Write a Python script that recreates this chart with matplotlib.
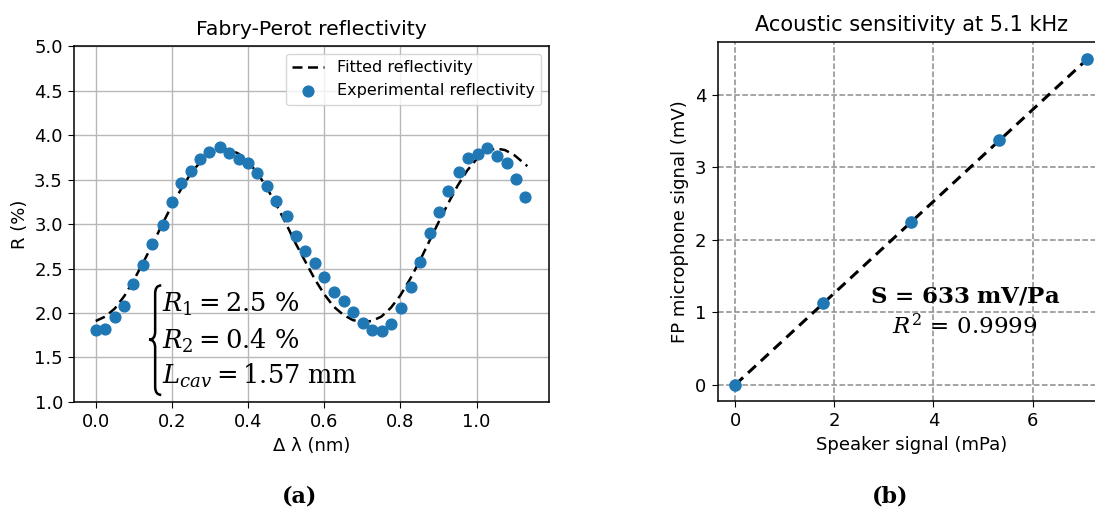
import numpy as np
import matplotlib
matplotlib.use("Agg")
import matplotlib.pyplot as plt
from matplotlib.path import Path
from matplotlib.patches import PathPatch

plt.rcParams['mathtext.fontset'] = 'dejavuserif'
plt.rcParams['xtick.labelsize'] = 13
plt.rcParams['ytick.labelsize'] = 13
plt.rcParams['xtick.major.size'] = 4.5
plt.rcParams['ytick.major.size'] = 4.5
plt.rcParams['axes.linewidth'] = 1.1

# ---- Panel (a) data: Fabry-Perot reflectivity ----
exp_dl = [0.000, 0.024, 0.050, 0.075, 0.099, 0.125, 0.149, 0.176, 0.199, 0.223,
          0.249, 0.274, 0.298, 0.325, 0.349, 0.375, 0.399, 0.424, 0.450, 0.474,
          0.501, 0.525, 0.550, 0.576, 0.600, 0.626, 0.651, 0.675, 0.701, 0.726,
          0.752, 0.776, 0.801, 0.827, 0.852, 0.878, 0.902, 0.925, 0.953, 0.978,
          1.004, 1.028, 1.053, 1.079, 1.104, 1.128]
exp_R = [1.81, 1.82, 1.96, 2.08, 2.33, 2.54, 2.77, 2.99, 3.25, 3.46,
         3.59, 3.73, 3.81, 3.87, 3.80, 3.73, 3.68, 3.57, 3.43, 3.26,
         3.09, 2.87, 2.70, 2.56, 2.41, 2.24, 2.14, 2.01, 1.89, 1.81,
         1.80, 1.88, 2.06, 2.29, 2.57, 2.90, 3.14, 3.37, 3.58, 3.74,
         3.79, 3.85, 3.76, 3.69, 3.51, 3.30]

fit_dl = [0.000, 0.025, 0.050, 0.075, 0.100, 0.125, 0.150, 0.175, 0.200, 0.225,
          0.250, 0.275, 0.300, 0.325, 0.350, 0.375, 0.400, 0.425, 0.450, 0.475,
          0.500, 0.525, 0.550, 0.575, 0.600, 0.625, 0.650, 0.675, 0.700, 0.725,
          0.750, 0.775, 0.800, 0.825, 0.850, 0.875, 0.900, 0.925, 0.950, 0.975,
          1.000, 1.025, 1.050, 1.075, 1.100, 1.125, 1.133]
fit_R = [1.91, 1.96, 2.05, 2.19, 2.37, 2.57, 2.78, 3.00, 3.21, 3.40,
         3.57, 3.70, 3.79, 3.84, 3.84, 3.79, 3.70, 3.57, 3.40, 3.21,
         3.00, 2.78, 2.58, 2.38, 2.21, 2.07, 1.98, 1.92, 1.90, 1.91,
         1.96, 2.06, 2.20, 2.38, 2.58, 2.80, 3.02, 3.23, 3.43, 3.60,
         3.73, 3.81, 3.85, 3.83, 3.77, 3.68, 3.65]

# ---- Panel (b) data: acoustic sensitivity ----
speaker_mPa = [0.0, 1.78, 3.55, 5.33, 7.10]
fp_mV = [0.0, 1.13, 2.25, 3.37, 4.49]
line_mPa = [0.0, 7.10]
line_mV = [0.0, 4.49]

blue = '#1f77b4'

fig = plt.figure(figsize=(10.95, 5.14), dpi=100)

# ---------------- Panel (a) ----------------
ax1 = fig.add_axes([0.0676, 0.2179, 0.4338, 0.6926])
ax1.plot(fit_dl, fit_R, '--', color='black', lw=1.8, dashes=(4, 2.2),
         label='Fitted reflectivity', zorder=3)
ax1.scatter(exp_dl, exp_R, s=60, color=blue, label='Experimental reflectivity', zorder=4)
ax1.set_ylim(1.0, 5.0)
ax1.set_yticks(np.arange(1.0, 5.01, 0.5))
ax1.set_xticks([0.0, 0.2, 0.4, 0.6, 0.8, 1.0])
ax1.set_xlim(-0.057, 1.19)
ax1.grid(True, color='#b8b8b8', lw=1.0)
ax1.set_axisbelow(True)
ax1.set_title('Fabry-Perot reflectivity', fontsize=14.7, pad=8)
ax1.set_xlabel('Δ λ (nm)', fontsize=13)
ax1.set_ylabel('R (%)', fontsize=13)
ax1.legend(loc='upper right', fontsize=11.5)

# curly brace
xr, xm, xl = 0.172, 0.156, 0.140
yt, yb = 2.31, 1.08
ymid = (yt + yb) / 2 + 0.005
d = 0.09
verts = [(xr, yt), (xm, yt), (xm, yt - d),
         (xm, ymid + d),
         (xm, ymid), (xl, ymid),
         (xm, ymid), (xm, ymid - d),
         (xm, yb + d),
         (xm, yb), (xr, yb)]
codes = [Path.MOVETO, Path.CURVE3, Path.CURVE3,
         Path.LINETO,
         Path.CURVE3, Path.CURVE3,
         Path.CURVE3, Path.CURVE3,
         Path.LINETO,
         Path.CURVE3, Path.CURVE3]
ax1.add_patch(PathPatch(Path(verts, codes), fill=False, lw=1.8, color='black', zorder=5))

ax1.text(0.174, 2.01, r'$R_1 = 2.5\ \%$', fontsize=18.5, va='baseline', ha='left', zorder=6)
ax1.text(0.174, 1.60, r'$R_2 = 0.4\ \%$', fontsize=18.5, va='baseline', ha='left', zorder=6)
ax1.text(0.174, 1.21, r'$L_{cav} = 1.57\ \mathrm{mm}$', fontsize=18.5, va='baseline', ha='left', zorder=6)

# ---------------- Panel (b) ----------------
ax2 = fig.add_axes([0.6554, 0.2198, 0.3534, 0.6979])
ax2.plot(line_mPa, line_mV, '--', color='black', lw=2.2, dashes=(3.5, 2.2), zorder=3)
ax2.scatter(speaker_mPa, fp_mV, s=65, color=blue, zorder=4)
ax2.set_xlim(-0.355, 7.455)
ax2.set_ylim(-0.225, 4.725)
ax2.set_xticks([0, 2, 4, 6])
ax2.set_yticks([0, 1, 2, 3, 4])
ax2.grid(True, color='#8c8c8c', ls='--', lw=1.1)
ax2.set_axisbelow(True)
ax2.set_title('Acoustic sensitivity at 5.1 kHz', fontsize=15, pad=8)
ax2.set_xlabel('Speaker signal (mPa)', fontsize=13)
ax2.set_ylabel('FP microphone signal (mV)', fontsize=13)
ax2.text(4.63, 1.23, r'$\mathbf{S\, =\, 633\ mV/Pa}$', fontsize=16.5, ha='center', va='center', zorder=6)
ax2.text(4.63, 0.80, r'$R^2\, =\, 0.9999$', fontsize=16.5, ha='center', va='center', zorder=6)

# panel labels
fig.text(300 / 1095, 1 - 497 / 514, '(a)', fontsize=16, fontweight='bold',
         family='DejaVu Serif', ha='center', va='center')
fig.text(890 / 1095, 1 - 497 / 514, '(b)', fontsize=16, fontweight='bold',
         family='DejaVu Serif', ha='center', va='center')

fig.savefig('out.png', dpi=100)
